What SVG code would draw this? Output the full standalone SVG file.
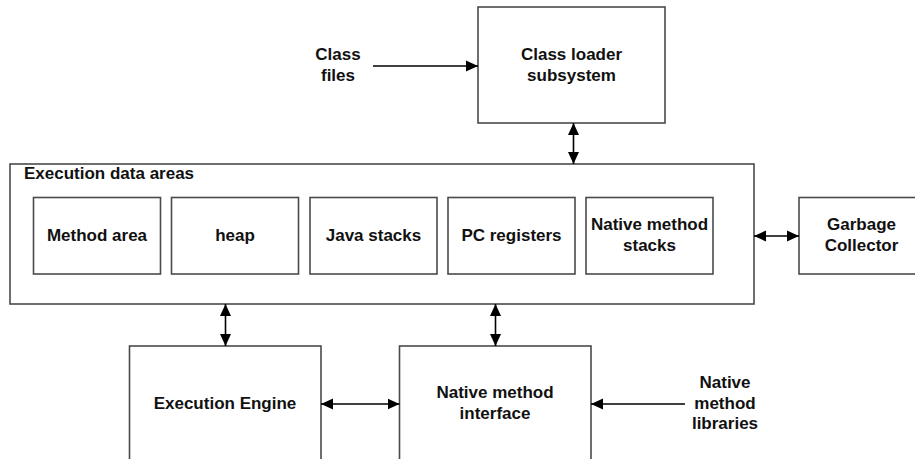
<svg xmlns="http://www.w3.org/2000/svg" width="915" height="459" viewBox="0 0 915 459">
<defs>
<marker id="ah" viewBox="0 0 12 12" refX="12" refY="6" markerWidth="12" markerHeight="12" markerUnits="userSpaceOnUse" orient="auto-start-reverse">
<path d="M0,0.5 L12,6 L0,11.5 Z" fill="#000"/>
</marker>
<style>
.box{fill:#fff;stroke:#4a4a4a;stroke-width:1.6}
.t{font-family:"Liberation Sans",Arial,sans-serif;font-weight:bold;font-size:17px;fill:#111;text-anchor:middle}
.tl{font-family:"Liberation Sans",Arial,sans-serif;font-weight:bold;font-size:17px;fill:#111}
.c{stroke:#000;stroke-width:1.6;fill:none}
</style>
</defs>
<rect width="915" height="459" fill="#fff"/>
<g id="class-files">
<text class="t" x="338" y="60">Class</text>
<text class="t" x="338" y="81">files</text>
</g>
<g id="class-loader">
<rect class="box" x="478" y="7" width="187" height="116"/>
<text class="t" x="571.5" y="60">Class loader</text>
<text class="t" x="571.5" y="81">subsystem</text>
</g>
<g id="execution-data-areas">
<rect class="box" x="10" y="164" width="744" height="140"/>
<text class="tl" x="24" y="179">Execution data areas</text>
</g>
<g id="method-area">
<rect class="box" x="33.5" y="197.5" width="127" height="76.5"/>
<text class="t" x="97" y="241">Method area</text>
</g>
<g id="heap">
<rect class="box" x="171.5" y="197.5" width="127" height="76.5"/>
<text class="t" x="235" y="241">heap</text>
</g>
<g id="java-stacks">
<rect class="box" x="310" y="197.5" width="127" height="76.5"/>
<text class="t" x="373.5" y="241">Java stacks</text>
</g>
<g id="pc-registers">
<rect class="box" x="448" y="197.5" width="127" height="76.5"/>
<text class="t" x="511.5" y="241">PC registers</text>
</g>
<g id="native-method-stacks">
<rect class="box" x="586" y="197.5" width="127" height="76.5"/>
<text class="t" x="649.5" y="230">Native method</text>
<text class="t" x="649.5" y="251">stacks</text>
</g>
<g id="garbage-collector">
<rect class="box" x="799" y="197.5" width="125" height="76.5"/>
<text class="t" x="861.5" y="230">Garbage</text>
<text class="t" x="861.5" y="251">Collector</text>
</g>
<g id="execution-engine">
<rect class="box" x="129.5" y="346" width="191.5" height="120"/>
<text class="t" x="225" y="409">Execution Engine</text>
</g>
<g id="native-method-interface">
<rect class="box" x="399.5" y="346" width="191.5" height="120"/>
<text class="t" x="495" y="398">Native method</text>
<text class="t" x="495" y="419">interface</text>
</g>
<g id="native-method-libraries">
<text class="t" x="725" y="388">Native</text>
<text class="t" x="725" y="408.5">method</text>
<text class="t" x="725" y="429">libraries</text>
</g>
<g id="connectors">
<line class="c" x1="373" y1="66" x2="478" y2="66" marker-end="url(#ah)"/>
<line class="c" x1="573.5" y1="123" x2="573.5" y2="164" marker-start="url(#ah)" marker-end="url(#ah)"/>
<line class="c" x1="754" y1="236" x2="799" y2="236" marker-start="url(#ah)" marker-end="url(#ah)"/>
<line class="c" x1="225.5" y1="304" x2="225.5" y2="346" marker-start="url(#ah)" marker-end="url(#ah)"/>
<line class="c" x1="495.5" y1="304" x2="495.5" y2="346" marker-start="url(#ah)" marker-end="url(#ah)"/>
<line class="c" x1="321" y1="404" x2="399.5" y2="404" marker-start="url(#ah)" marker-end="url(#ah)"/>
<line class="c" x1="685" y1="404" x2="591" y2="404" marker-end="url(#ah)"/>
</g>
</svg>
